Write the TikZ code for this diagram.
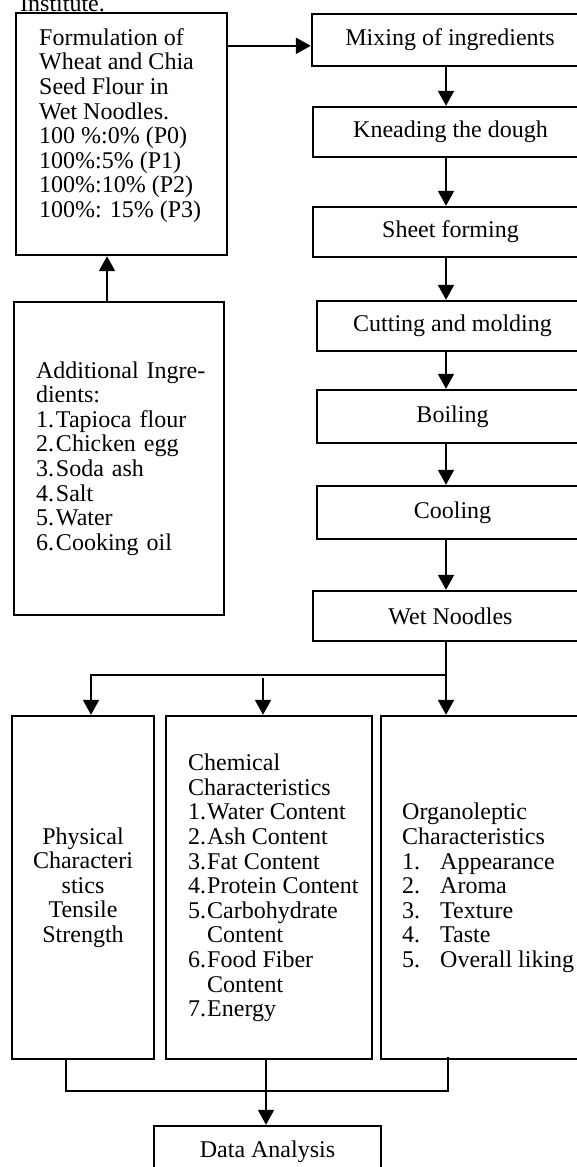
\documentclass[tikz,border=0pt]{standalone}
\usepackage{fontspec}
\setmainfont{Liberation Serif}
\usetikzlibrary{arrows.meta,calc}
\newcommand\numlab[2]{\makebox[#1][l]{#2}}
\begin{document}
\begin{tikzpicture}[x=1pt,y=-1pt,
  every node/.style={font=\fontsize{24}{24.6}\selectfont},
  box/.style={draw,line width=2.4pt,inner sep=0pt,rectangle},
  txt/.style={inner sep=0pt,align=left},
  line/.style={line width=2pt},
  arr/.style={line width=2pt,-{Triangle[width=16pt,length=15pt]}}]
\useasboundingbox (0,0) rectangle (577,1167);
\fill[white] (0,0) rectangle (577,1167);
\clip (0,0) rectangle (577,1167);

% clipped heading fragment, cut off at the top as in the source page
\node[anchor=base west,inner sep=0pt] (inst) at (20,11) {Institute.};

% left column
\node[box,minimum width=211pt,minimum height=242pt] (form) at (121.5,134) {};
\node[txt,anchor=west] (formtxt) at (39,125.5) {Formulation of\\Wheat and Chia\\Seed Flour in\\Wet Noodles.\\100 \%:0\% (P0)\\100\%:5\% (P1)\\100\%:10\% (P2)\\100\%: 15\% (P3)};

\node[box,minimum width=210pt,minimum height=313pt,text width=166pt,align=left] (add) at (119,458.5)
 {\makebox[166pt][s]{Additional Ingre-}\\dients:\\
  \numlab{20pt}{1.}Tapioca flour\\\numlab{20pt}{2.}Chicken egg\\\numlab{20pt}{3.}Soda ash\\
  \numlab{20pt}{4.}Salt\\\numlab{20pt}{5.}Water\\\numlab{20pt}{6.}Cooking oil};

% right column
\node[box,minimum width=276pt,minimum height=52pt] (mix) at (450,40) {Mixing of ingredients};
\node[box,minimum width=275pt,minimum height=50pt] (knead) at (450.5,132) {Kneading the dough};
\node[box,minimum width=275pt,minimum height=50pt] (sheet) at (450.5,232) {Sheet forming};
\node[box,minimum width=271pt,minimum height=50pt] (cut) at (452.5,326) {Cutting and molding};
\node[box,minimum width=271pt,minimum height=53pt] (boil) at (452.5,416.5) {Boiling};
\node[box,minimum width=271pt,minimum height=53pt] (cool) at (452.5,512.5) {Cooling};
\node[box,minimum width=275pt,minimum height=50pt] (wet) at (450.5,616) {Wet Noodles};

% characteristic boxes
\node[box,minimum width=142pt,minimum height=343pt,align=center] (phys) at (83,887.5)
 {Physical\\Characteri\\stics\\Tensile\\Strength};
\node[box,minimum width=206pt,minimum height=343pt] (chem) at (269,887.5) {};
\node[txt,anchor=west] (chemtxt) at (188,888)
 {Chemical\\Characteristics\\
  \numlab{19pt}{1.}Water Content\\\numlab{19pt}{2.}Ash Content\\\numlab{19pt}{3.}Fat Content\\
  \numlab{19pt}{4.}Protein Content\\\numlab{19pt}{5.}Carbohydrate\\\hspace*{19pt}Content\\
  \numlab{19pt}{6.}Food Fiber\\\hspace*{19pt}Content\\\numlab{19pt}{7.}Energy};
\node[box,minimum width=239pt,minimum height=343pt] (org) at (500.5,887.5) {};
\node[txt,anchor=west] (orgtxt) at (402,888)
 {Organoleptic\\Characteristics\\
  \numlab{38pt}{1.}Appearance\\\numlab{38pt}{2.}Aroma\\\numlab{38pt}{3.}Texture\\
  \numlab{38pt}{4.}Taste\\\numlab{38pt}{5.}Overall liking};

\node[box,minimum width=227pt,minimum height=52pt] (data) at (267.5,1152) {Data Analysis};

% connectors
\coordinate (colx) at (446,0);
\coordinate (addx) at (107,0);
\coordinate (br) at (446,675);
\coordinate (midtop) at (263,678);
\coordinate (bus) at (266,1091);
\coordinate (orgx) at (448,0);

\draw[arr] ([yshift=-34pt]form.north east) -- ([yshift=-33pt]mix.north west);
\draw[arr] (add.north -| addx) -- (form.south -| addx);
\draw[arr] (mix.south -| colx) -- (knead.north -| colx);
\draw[arr] (knead.south -| colx) -- (sheet.north -| colx);
\draw[arr] (sheet.south -| colx) -- (cut.north -| colx);
\draw[arr] (cut.south -| colx) -- (boil.north -| colx);
\draw[arr] (boil.south -| colx) -- (cool.north -| colx);
\draw[arr] (cool.south -| colx) -- (wet.north -| colx);

\draw[line] (wet.south -| colx) -- (br);
\draw[arr] (br) -| ([xshift=8pt]phys.north);
\draw[arr] (br) -- (org.north -| colx);
\draw[arr] (midtop) -- (chem.north -| midtop);

\draw[line] ([xshift=-17pt]phys.south) |- (bus) -| ([yshift=3pt]org.south -| orgx);
\draw[arr] (chem.south -| bus) -- (data.north -| bus);
\end{tikzpicture}
\end{document}
